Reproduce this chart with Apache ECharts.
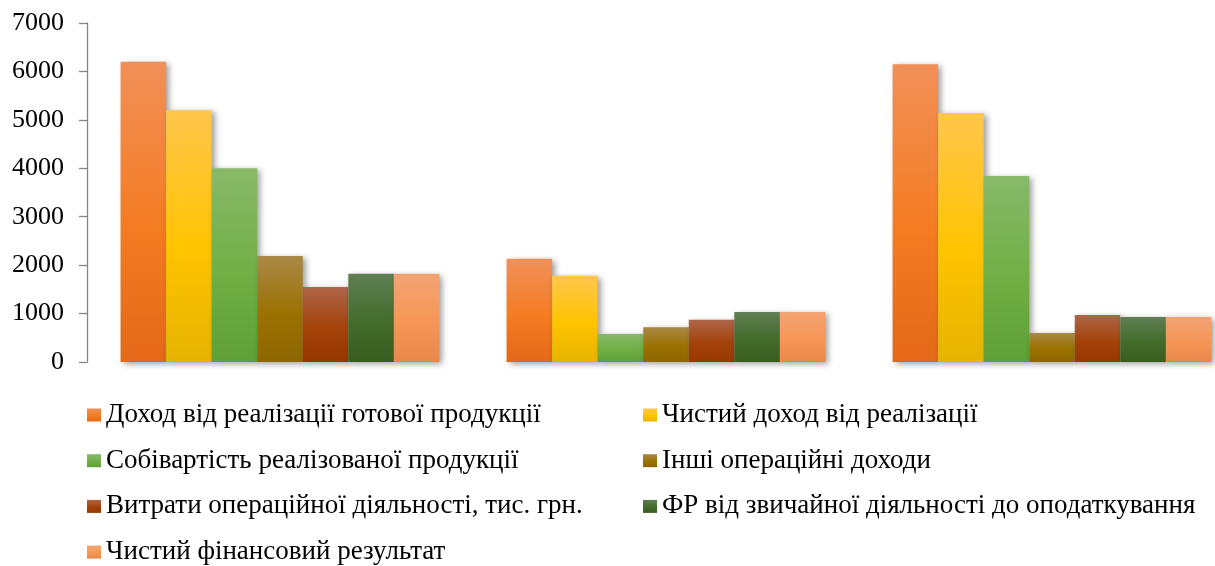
<!DOCTYPE html>
<html>
<head>
<meta charset="utf-8">
<script src="https://cdn.jsdelivr.net/npm/echarts@6/dist/echarts.min.js"></script>
<style>
  html, body { margin: 0; padding: 0; background: #ffffff; }
  #chart { width: 1215px; height: 566px; }
</style>
</head>
<body>
<div id="chart"></div>
<script>
// Periods on the horizontal axis (labels are not shown)
const categories = ['Період 1', 'Період 2', 'Період 3'];

// Series names
const seriesNames = [
  'Доход від реалізації готової продукції',
  'Чистий доход від реалізації',
  'Собівартість реалізованої продукції',
  'Інші операційні доходи',
  'Витрати операційної діяльності, тис. грн.',
  'ФР від звичайної діяльності до оподаткування',
  'Чистий фінансовий результат'
];

// Values, тис. грн.
const revenueGoods   = [6200, 2130, 6150];
const netRevenue     = [5200, 1780, 5140];
const costOfSales    = [4000, 580, 3840];
const otherIncome    = [2190, 720, 600];
const operatingCosts = [1550, 870, 970];
const resultBeforeTax = [1820, 1030, 930];
const netResult      = [1820, 1030, 930];

const seriesValues = [revenueGoods, netRevenue, costOfSales, otherIncome,
                      operatingCosts, resultBeforeTax, netResult];

// Y-axis ticks
const yTicks = [0, 1000, 2000, 3000, 4000, 5000, 6000, 7000];

// Vertical gradient fills: light top, base middle, darker bottom
const palette = [
  ['#F19059', '#F47C22', '#E46818'],
  ['#FFC64C', '#FFC400', '#E5B300'],
  ['#88B96A', '#71AF45', '#5F9F35'],
  ['#A98946', '#9B7100', '#8D6600'],
  ['#AF6549', '#A3430A', '#973700'],
  ['#607F53', '#436C2B', '#395D1F'],
  ['#F2A374', '#F69656', '#E7874A']
];

function grad(c) {
  return new echarts.graphic.LinearGradient(0, 0, 0, 1, [
    { offset: 0, color: c[0] },
    { offset: 0.55, color: c[1] },
    { offset: 1, color: c[2] }
  ]);
}

const fontFamily = '"Liberation Serif", "Times New Roman", serif';

const series = seriesNames.map((name, i) => ({
  name: name,
  type: 'bar',
  data: seriesValues[i],
  barGap: '0%',
  barCategoryGap: '17.4%',
  itemStyle: {
    color: grad(palette[i]),
    shadowColor: 'rgba(0,0,0,0.38)',
    shadowBlur: 6,
    shadowOffsetX: 3,
    shadowOffsetY: 2
  },
  emphasis: { disabled: true }
}));

const legendText = {
  fontFamily: fontFamily,
  fontSize: 27,
  color: '#000000',
  lineHeight: 32
};

const legendBase = {
  orient: 'vertical',
  top: 399,
  height: 170,
  padding: 0,
  itemGap: 13.7,
  itemWidth: 14,
  itemHeight: 13,
  icon: 'rect',
  selectedMode: false,
  textStyle: legendText
};

const chart = echarts.init(document.getElementById('chart'), null, { renderer: 'canvas' });
chart.setOption({
  animation: false,
  backgroundColor: '#ffffff',
  // The plot runs past the right edge, so the last group sits at the border
  grid: { left: 87, width: 1158, top: 23, height: 339, containLabel: false, outerBoundsMode: 'none' },
  xAxis: {
    type: 'category',
    data: categories,
    axisLine: { show: false },
    axisTick: { show: false },
    axisLabel: { show: false },
    splitLine: { show: false }
  },
  yAxis: {
    type: 'value',
    min: yTicks[0],
    max: yTicks[yTicks.length - 1],
    interval: 1000,
    axisLine: { show: true, lineStyle: { color: '#868686', width: 1.3 } },
    axisTick: { show: true, length: 8, lineStyle: { color: '#868686', width: 1.3 } },
    splitLine: { show: false },
    axisLabel: {
      margin: 23,
      fontFamily: fontFamily,
      fontSize: 26,
      color: '#000000',
      formatter: (v) => String(v)
    }
  },
  legend: [
    Object.assign({}, legendBase, {
      left: 87,
      data: [seriesNames[0], seriesNames[2], seriesNames[4], seriesNames[6]]
    }),
    Object.assign({}, legendBase, {
      left: 643,
      data: [seriesNames[1], seriesNames[3], seriesNames[5]]
    })
  ],
  series: series
});
</script>
</body>
</html>
